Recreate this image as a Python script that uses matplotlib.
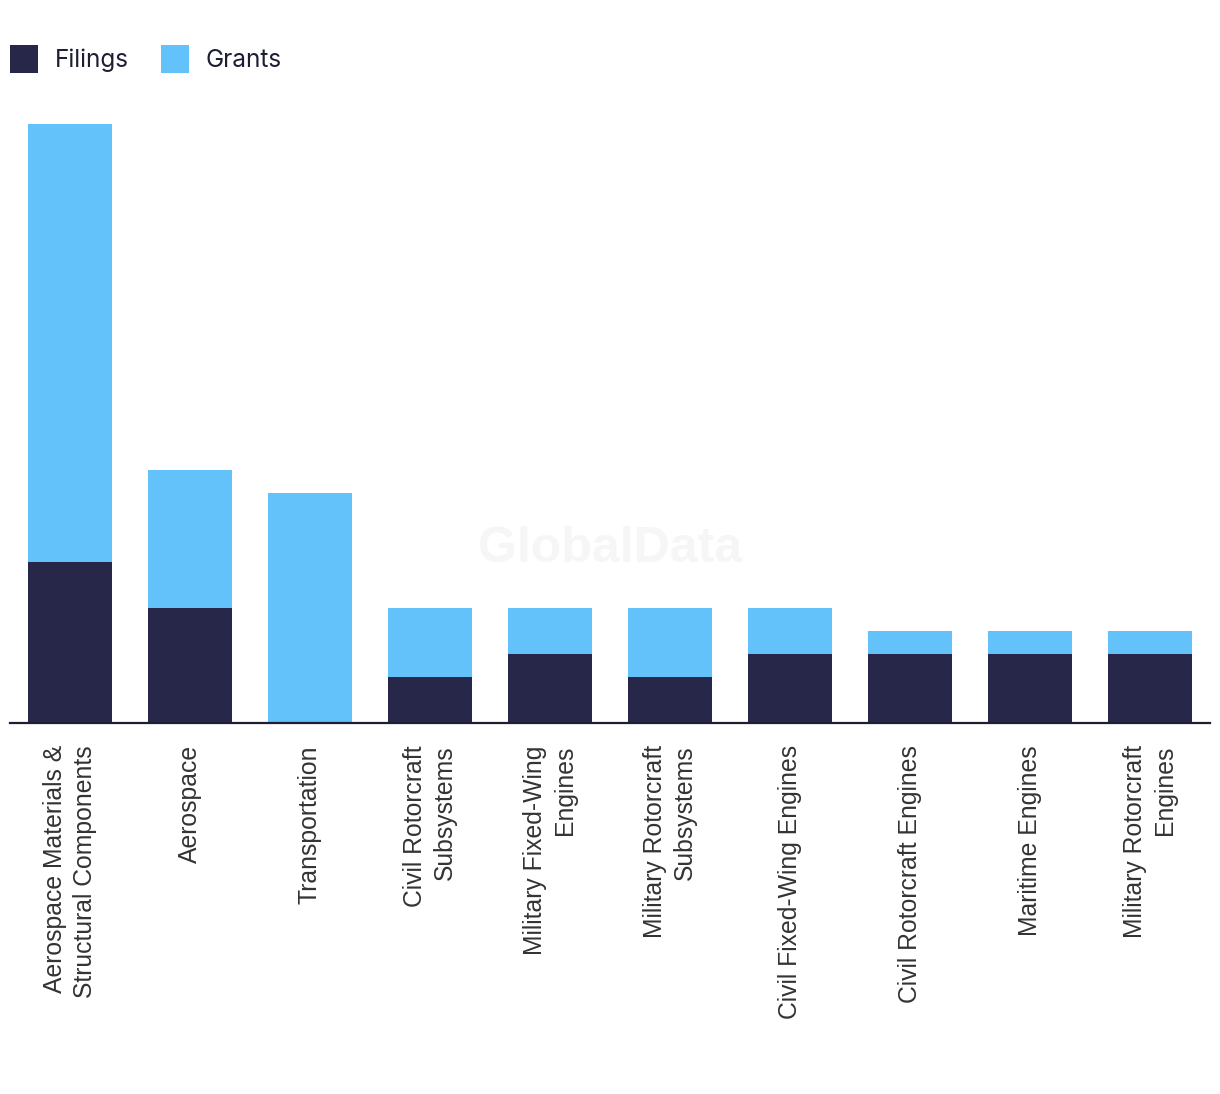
import numpy as np
import matplotlib.pyplot as plt

categories = [
    "Aerospace Materials &\nStructural Components",
    "Aerospace",
    "Transportation",
    "Civil Rotorcraft\nSubsystems",
    "Military Fixed-Wing\nEngines",
    "Military Rotorcraft\nSubsystems",
    "Civil Fixed-Wing Engines",
    "Civil Rotorcraft Engines",
    "Maritime Engines",
    "Military Rotorcraft\nEngines",
]
filings = [7, 5, 0, 2, 3, 2, 3, 3, 3, 3]
grants = [19, 6, 10, 3, 2, 3, 2, 1, 1, 1]

navy = "#272849"
blue = "#62C2F9"

fig = plt.figure(figsize=(12.2, 10.94), dpi=100)
ax = fig.add_axes([10 / 1220, 1 - 723 / 1094, 1200 / 1220, (723 - 124) / 1094])

x = np.arange(len(categories))
ax.bar(x, filings, width=0.7, color=navy, label="Filings", zorder=2)
ax.bar(x, grants, width=0.7, bottom=filings, color=blue, label="Grants", zorder=2)

ax.set_xlim(-0.5, len(categories) - 0.5)
ax.set_ylim(0, 26)
ax.set_yticks([])
for s in ["top", "right", "left"]:
    ax.spines[s].set_visible(False)
ax.spines["bottom"].set_color("#1d1d33")
ax.spines["bottom"].set_linewidth(1.6)
ax.spines["bottom"].set_zorder(3)

ax.set_xticks(x)
ax.set_xticklabels(categories, rotation=90, ha="center", va="top",
                   multialignment="right", fontsize=17.8, linespacing=1.3,
                   family="Liberation Sans", color="#333333")
ax.tick_params(axis="x", length=0, pad=16)

fig.text(610 / 1220, 1 - 549 / 1094, "GlobalData", fontsize=36, fontweight="bold",
         family="Liberation Sans", color="#f6f6f6", ha="center", va="center", zorder=0)

fig.legend(loc="upper left", bbox_to_anchor=(10 / 1220, 1 - 47 / 1094), ncol=2,
           frameon=False, prop={"family": "Inter", "size": 17.5},
           handlelength=1.15, handleheight=1.15, handletextpad=0.7,
           columnspacing=1.3, borderpad=0, borderaxespad=0, labelcolor="#1d1d33")
leg = fig.legends[0]
for h in leg.legend_handles:
    h.set_height(20.2)
    h.set_width(20.2)
    h.set_y(-4)

fig.savefig("out.png", dpi=100)
